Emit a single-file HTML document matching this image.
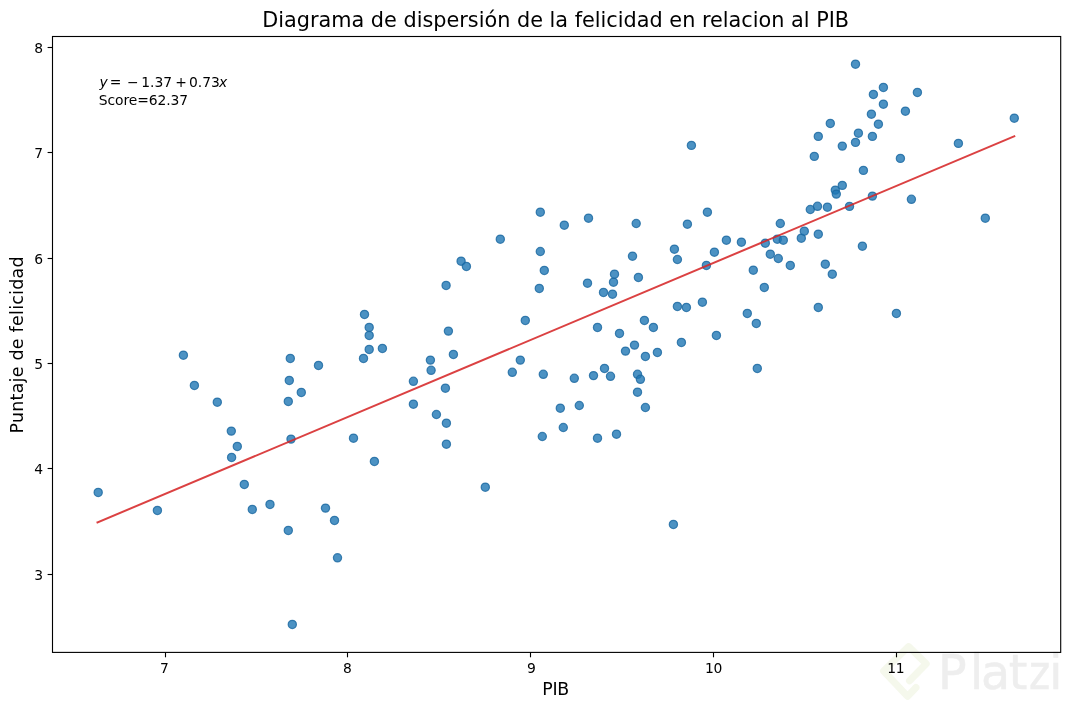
<!DOCTYPE html>
<html lang="es"><head><meta charset="utf-8"><title>Diagrama de dispersión</title>
<style>html,body{margin:0;padding:0;background:#fff}body{width:1069px;height:709px;overflow:hidden}svg{display:block}text{font-family:'DejaVu Sans','Liberation Sans',sans-serif;fill:#000}</style></head><body>
<svg width="1069" height="709" viewBox="0 0 1069 709">
<rect width="1069" height="709" fill="#fff"/>
<g id="wm"><path d="M916 687.5 L907.6 696.3 L883.6 671 L908.6 646.6 L926.2 663.8 L909.5 680.8" fill="none" stroke="#f5f8ec" stroke-width="7" stroke-linejoin="round" stroke-linecap="round"/><text x="937.9 970.0 981.0 1008.7" y="688.7" font-family="'Liberation Sans',sans-serif" font-size="47.5" style="fill:#eeeeee;stroke:#eeeeee;stroke-width:0.5">Plat<tspan x="1028.9" textLength="21.2" lengthAdjust="spacingAndGlyphs">z</tspan><tspan x="1049.3">i</tspan></text></g>
<g fill="#1f77b4" fill-opacity="0.8" stroke="#1a68a0" stroke-opacity="0.8" stroke-width="1.25">
<circle cx="98.2" cy="492.4" r="4.1"/>
<circle cx="157.4" cy="510.4" r="4.1"/>
<circle cx="183.4" cy="355.2" r="4.1"/>
<circle cx="194.4" cy="385.4" r="4.1"/>
<circle cx="217.3" cy="402.2" r="4.1"/>
<circle cx="231.3" cy="431.1" r="4.1"/>
<circle cx="231.6" cy="457.4" r="4.1"/>
<circle cx="237.3" cy="446.4" r="4.1"/>
<circle cx="244.3" cy="484.4" r="4.1"/>
<circle cx="252.3" cy="509.4" r="4.1"/>
<circle cx="270.0" cy="504.4" r="4.1"/>
<circle cx="288.3" cy="401.4" r="4.1"/>
<circle cx="288.3" cy="530.4" r="4.1"/>
<circle cx="289.3" cy="380.4" r="4.1"/>
<circle cx="290.3" cy="358.4" r="4.1"/>
<circle cx="291.0" cy="439.1" r="4.1"/>
<circle cx="292.3" cy="624.4" r="4.1"/>
<circle cx="301.3" cy="392.4" r="4.1"/>
<circle cx="318.5" cy="365.4" r="4.1"/>
<circle cx="325.5" cy="508.1" r="4.1"/>
<circle cx="334.5" cy="520.4" r="4.1"/>
<circle cx="337.5" cy="557.8" r="4.1"/>
<circle cx="353.5" cy="438.2" r="4.1"/>
<circle cx="363.5" cy="358.4" r="4.1"/>
<circle cx="364.5" cy="314.4" r="4.1"/>
<circle cx="369.2" cy="327.4" r="4.1"/>
<circle cx="369.2" cy="335.4" r="4.1"/>
<circle cx="369.2" cy="349.4" r="4.1"/>
<circle cx="374.4" cy="461.4" r="4.1"/>
<circle cx="382.4" cy="348.4" r="4.1"/>
<circle cx="413.4" cy="381.3" r="4.1"/>
<circle cx="413.4" cy="404.2" r="4.1"/>
<circle cx="430.4" cy="360.1" r="4.1"/>
<circle cx="431.1" cy="370.3" r="4.1"/>
<circle cx="436.4" cy="414.5" r="4.1"/>
<circle cx="445.4" cy="388.2" r="4.1"/>
<circle cx="446.1" cy="285.4" r="4.1"/>
<circle cx="446.4" cy="423.2" r="4.1"/>
<circle cx="446.4" cy="444.2" r="4.1"/>
<circle cx="448.4" cy="331.1" r="4.1"/>
<circle cx="453.4" cy="354.4" r="4.1"/>
<circle cx="461.1" cy="261.2" r="4.1"/>
<circle cx="466.4" cy="266.4" r="4.1"/>
<circle cx="485.3" cy="487.2" r="4.1"/>
<circle cx="500.3" cy="239.2" r="4.1"/>
<circle cx="512.3" cy="372.3" r="4.1"/>
<circle cx="520.3" cy="360.1" r="4.1"/>
<circle cx="525.3" cy="320.4" r="4.1"/>
<circle cx="539.3" cy="288.4" r="4.1"/>
<circle cx="540.3" cy="212.2" r="4.1"/>
<circle cx="540.3" cy="251.5" r="4.1"/>
<circle cx="542.3" cy="436.5" r="4.1"/>
<circle cx="543.3" cy="374.3" r="4.1"/>
<circle cx="544.3" cy="270.4" r="4.1"/>
<circle cx="560.3" cy="408.2" r="4.1"/>
<circle cx="563.3" cy="427.5" r="4.1"/>
<circle cx="564.3" cy="225.2" r="4.1"/>
<circle cx="574.3" cy="378.3" r="4.1"/>
<circle cx="579.3" cy="405.5" r="4.1"/>
<circle cx="587.5" cy="283.2" r="4.1"/>
<circle cx="588.5" cy="218.2" r="4.1"/>
<circle cx="593.5" cy="375.6" r="4.1"/>
<circle cx="597.5" cy="327.4" r="4.1"/>
<circle cx="597.5" cy="438.2" r="4.1"/>
<circle cx="603.5" cy="292.4" r="4.1"/>
<circle cx="604.5" cy="368.4" r="4.1"/>
<circle cx="610.5" cy="376.3" r="4.1"/>
<circle cx="612.5" cy="294.2" r="4.1"/>
<circle cx="613.5" cy="282.2" r="4.1"/>
<circle cx="614.5" cy="274.2" r="4.1"/>
<circle cx="616.5" cy="434.2" r="4.1"/>
<circle cx="619.5" cy="333.4" r="4.1"/>
<circle cx="625.5" cy="351.1" r="4.1"/>
<circle cx="632.5" cy="256.2" r="4.1"/>
<circle cx="634.5" cy="345.1" r="4.1"/>
<circle cx="636.2" cy="223.5" r="4.1"/>
<circle cx="637.5" cy="374.3" r="4.1"/>
<circle cx="637.5" cy="392.2" r="4.1"/>
<circle cx="638.4" cy="277.4" r="4.1"/>
<circle cx="640.4" cy="379.3" r="4.1"/>
<circle cx="644.4" cy="320.4" r="4.1"/>
<circle cx="645.4" cy="356.4" r="4.1"/>
<circle cx="645.4" cy="407.5" r="4.1"/>
<circle cx="653.4" cy="327.4" r="4.1"/>
<circle cx="657.4" cy="352.4" r="4.1"/>
<circle cx="673.4" cy="524.4" r="4.1"/>
<circle cx="674.4" cy="249.2" r="4.1"/>
<circle cx="677.4" cy="259.5" r="4.1"/>
<circle cx="677.4" cy="306.4" r="4.1"/>
<circle cx="681.4" cy="342.4" r="4.1"/>
<circle cx="686.4" cy="307.4" r="4.1"/>
<circle cx="687.4" cy="224.2" r="4.1"/>
<circle cx="691.4" cy="145.4" r="4.1"/>
<circle cx="702.4" cy="302.2" r="4.1"/>
<circle cx="706.4" cy="265.4" r="4.1"/>
<circle cx="707.4" cy="212.2" r="4.1"/>
<circle cx="714.4" cy="252.2" r="4.1"/>
<circle cx="716.4" cy="335.4" r="4.1"/>
<circle cx="726.4" cy="240.2" r="4.1"/>
<circle cx="741.4" cy="242.2" r="4.1"/>
<circle cx="747.3" cy="313.4" r="4.1"/>
<circle cx="753.3" cy="270.2" r="4.1"/>
<circle cx="756.3" cy="323.4" r="4.1"/>
<circle cx="757.3" cy="368.4" r="4.1"/>
<circle cx="764.3" cy="287.4" r="4.1"/>
<circle cx="765.3" cy="243.2" r="4.1"/>
<circle cx="770.3" cy="254.2" r="4.1"/>
<circle cx="777.3" cy="239.2" r="4.1"/>
<circle cx="778.3" cy="258.5" r="4.1"/>
<circle cx="780.3" cy="223.5" r="4.1"/>
<circle cx="783.3" cy="240.2" r="4.1"/>
<circle cx="790.3" cy="265.4" r="4.1"/>
<circle cx="801.3" cy="238.2" r="4.1"/>
<circle cx="804.3" cy="231.2" r="4.1"/>
<circle cx="810.3" cy="209.5" r="4.1"/>
<circle cx="814.3" cy="156.4" r="4.1"/>
<circle cx="817.5" cy="206.3" r="4.1"/>
<circle cx="818.3" cy="136.4" r="4.1"/>
<circle cx="818.3" cy="234.2" r="4.1"/>
<circle cx="818.3" cy="307.4" r="4.1"/>
<circle cx="825.3" cy="264.2" r="4.1"/>
<circle cx="827.4" cy="207.2" r="4.1"/>
<circle cx="830.3" cy="123.4" r="4.1"/>
<circle cx="832.3" cy="274.2" r="4.1"/>
<circle cx="835.3" cy="190.1" r="4.1"/>
<circle cx="836.3" cy="194.1" r="4.1"/>
<circle cx="842.3" cy="146.1" r="4.1"/>
<circle cx="842.3" cy="185.4" r="4.1"/>
<circle cx="849.5" cy="206.4" r="4.1"/>
<circle cx="855.5" cy="64.2" r="4.1"/>
<circle cx="855.5" cy="142.4" r="4.1"/>
<circle cx="858.4" cy="133.2" r="4.1"/>
<circle cx="862.4" cy="246.2" r="4.1"/>
<circle cx="863.4" cy="170.4" r="4.1"/>
<circle cx="871.4" cy="114.2" r="4.1"/>
<circle cx="872.4" cy="136.4" r="4.1"/>
<circle cx="872.4" cy="196.1" r="4.1"/>
<circle cx="873.4" cy="94.4" r="4.1"/>
<circle cx="878.4" cy="124.2" r="4.1"/>
<circle cx="883.4" cy="87.4" r="4.1"/>
<circle cx="883.4" cy="104.2" r="4.1"/>
<circle cx="896.4" cy="313.4" r="4.1"/>
<circle cx="900.4" cy="158.4" r="4.1"/>
<circle cx="905.4" cy="111.2" r="4.1"/>
<circle cx="911.4" cy="199.3" r="4.1"/>
<circle cx="917.4" cy="92.4" r="4.1"/>
<circle cx="958.4" cy="143.4" r="4.1"/>
<circle cx="985.3" cy="218.2" r="4.1"/>
<circle cx="1014.3" cy="118.2" r="4.1"/>
</g>
<line x1="97.5" y1="522.4" x2="1014.3" y2="136.2" stroke="#d62728" stroke-opacity="0.88" stroke-width="2.0" stroke-linecap="square"/>
<g stroke="#000" stroke-width="1.11">
<line x1="165.5" y1="652.4" x2="165.5" y2="657.3"/>
<line x1="347.5" y1="652.4" x2="347.5" y2="657.3"/>
<line x1="530.5" y1="652.4" x2="530.5" y2="657.3"/>
<line x1="713.5" y1="652.4" x2="713.5" y2="657.3"/>
<line x1="896.5" y1="652.4" x2="896.5" y2="657.3"/>
<line x1="47.6" y1="47.5" x2="52.5" y2="47.5"/>
<line x1="47.6" y1="152.5" x2="52.5" y2="152.5"/>
<line x1="47.6" y1="258.5" x2="52.5" y2="258.5"/>
<line x1="47.6" y1="363.5" x2="52.5" y2="363.5"/>
<line x1="47.6" y1="468.5" x2="52.5" y2="468.5"/>
<line x1="47.6" y1="574.5" x2="52.5" y2="574.5"/>
</g>
<rect x="52.5" y="36.5" width="1008.2" height="615.9" fill="none" stroke="#000" stroke-width="1.11"/>
<g font-size="13.89">
<text x="164.50" y="673.0" text-anchor="middle">7</text>
<text x="347.50" y="673.0" text-anchor="middle">8</text>
<text x="531.50" y="673.0" text-anchor="middle">9</text>
<text x="713.45" y="673.0" text-anchor="middle" letter-spacing="-0.5">10</text>
<text x="895.65" y="673.0" text-anchor="middle" letter-spacing="-0.5">11</text>
<text x="43.0" y="52.9" text-anchor="end">8</text>
<text x="43.0" y="157.9" text-anchor="end">7</text>
<text x="43.0" y="263.9" text-anchor="end">6</text>
<text x="43.0" y="368.9" text-anchor="end">5</text>
<text x="43.0" y="473.9" text-anchor="end">4</text>
<text x="43.0" y="579.9" text-anchor="end">3</text>
</g>
<text x="555.7" y="27" font-size="20.8" text-anchor="middle">Diagrama de dispersión de la felicidad en relacion al PIB</text>
<text x="555.8" y="694.8" font-size="17.36" text-anchor="middle" textLength="26.9" lengthAdjust="spacing">PIB</text>
<text transform="translate(23.2,345.0) rotate(-90)" font-size="17.36" text-anchor="middle" textLength="177.0" lengthAdjust="spacing">Puntaje de felicidad</text>
<text y="86.8" font-size="13.89"><tspan x="99.4" font-style="italic">y</tspan><tspan x="109.8">=</tspan><tspan x="127.0">−</tspan><tspan x="141.3">1.37</tspan><tspan x="175.3">+</tspan><tspan x="189.0">0.73</tspan><tspan x="219.1" font-style="italic">x</tspan></text>
<text x="98.8" y="104.8" font-size="13.89" letter-spacing="-0.1">Score=62.37</text>
</svg></body></html>
